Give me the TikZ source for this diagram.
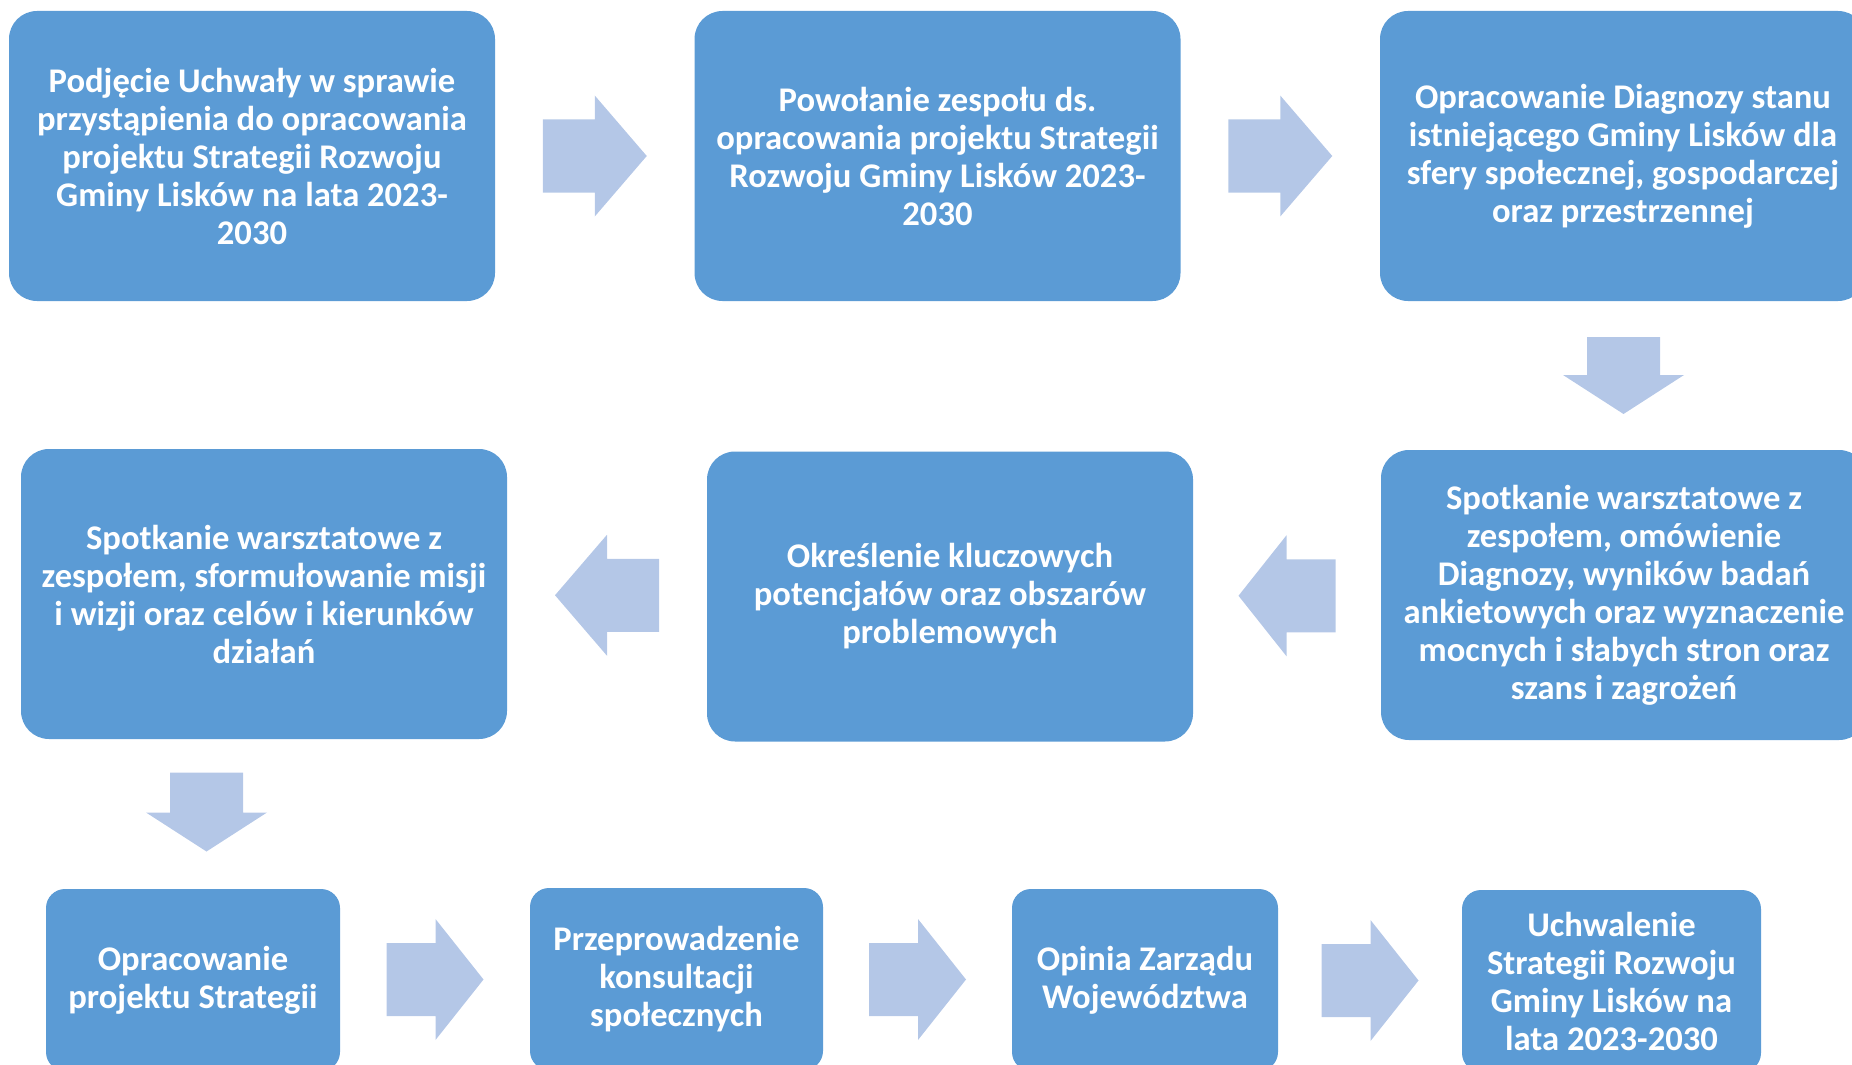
\documentclass[tikz,border=0pt]{standalone}
\usepackage{fontspec}
\setmainfont{Carlito}
\usetikzlibrary{calc}
\definecolor{boxblue}{HTML}{5B9BD5}
\definecolor{arrowblue}{HTML}{B4C7E7}
% block arrow: centre, angle, length, head length
\newcommand{\fatarrow}[4]{%
  \fill[arrowblue, shift={(#1)}, rotate=#2]
    ({-#3/2},-36.5) -- ({#3/2-#4},-36.5) -- ({#3/2-#4},-60.5) -- ({#3/2},0)
    -- ({#3/2-#4},60.5) -- ({#3/2-#4},36.5) -- ({-#3/2},36.5) -- cycle;}

\begin{document}
\begin{tikzpicture}[x=0.5pt, y=-0.5pt,
    stepbox/.style={fill=boxblue, text=white, align=center, inner sep=0pt,
      font=\fontsize{17.3}{19}\selectfont\bfseries},
    bigbox/.style={stepbox, rounded corners=14pt, minimum width=243pt, minimum height=145pt},
    smallbox/.style={stepbox, rounded corners=9.5pt, minimum height=91pt}]
      \useasboundingbox (0,0) rectangle (1852,1065);
      \clip (0,0) rectangle (1852,1065);

      % first row
      \node at (252,156) [bigbox, name=uchwala]
      {Podjęcie Uchwały w sprawie\\przystąpienia do opracowania\\projektu Strategii Rozwoju\\Gminy Lisków na lata 2023-\\2030};
      \node at (937.5,156) [bigbox, name=zespol]
      {Powołanie zespołu ds.\\opracowania projektu Strategii\\Rozwoju Gminy Lisków 2023-\\2030};
      \node at (1623,156) [bigbox, name=diagnoza]
      {Opracowanie Diagnozy stanu\\istniejącego Gminy Lisków dla\\sfery społecznej, gospodarczej\\oraz przestrzennej};

      % second row
      \node at (1624,595) [bigbox, name=warsztat]
      {Spotkanie warsztatowe z\\zespołem, omówienie\\Diagnozy, wyników badań\\ankietowych oraz wyznaczenie\\mocnych i słabych stron oraz\\szans i zagrożeń};
      \node at (950,596.5) [bigbox, name=potencjal]
      {Określenie kluczowych\\potencjałów oraz obszarów\\problemowych};
      \node at (264,594) [bigbox, name=misja]
      {Spotkanie warsztatowe z\\zespołem, sformułowanie misji\\i wizji oraz celów i kierunków\\działań};

      % third row
      \node at (193,980) [smallbox, minimum width=147pt, name=projekt]
      {Opracowanie\\projektu Strategii};
      \node at (676.5,979) [smallbox, minimum width=146.5pt, name=konsult]
      {Przeprowadzenie\\konsultacji\\społecznych};
      \node at (1145,980) [smallbox, minimum width=133pt, name=opinia]
      {Opinia Zarządu\\Województwa};
      \node at (1611.5,981) [smallbox, minimum width=149.5pt, name=uchwalenie]
      {Uchwalenie\\Strategii Rozwoju\\Gminy Lisków na\\lata 2023-2030};

      \fatarrow{$(uchwala.east)!0.5!(zespol.west)$}{0}{104}{52}
      \fatarrow{$(zespol.east)!0.5!(diagnoza.west)$}{0}{104}{52}
      \fatarrow{$(diagnoza.south)!0.5!(warsztat.north)$}{-90}{77}{39}
      \fatarrow{$(warsztat.west)!0.5!(potencjal.east)$}{180}{97}{48}
      \fatarrow{$(potencjal.west)!0.5!(misja.east)$}{180}{104}{52}
      \fatarrow{$(misja.south)!0.5!(projekt.north)+(-22,-2)$}{-90}{79}{39}
      \fatarrow{$(projekt.east)!0.5!(konsult.west)$}{0}{97}{48}
      \fatarrow{$(konsult.east)!0.5!(opinia.west)$}{0}{97}{48}
      \fatarrow{$(opinia.east)!0.5!(uchwalenie.west)$}{0}{97}{48}
\end{tikzpicture}
\end{document}
